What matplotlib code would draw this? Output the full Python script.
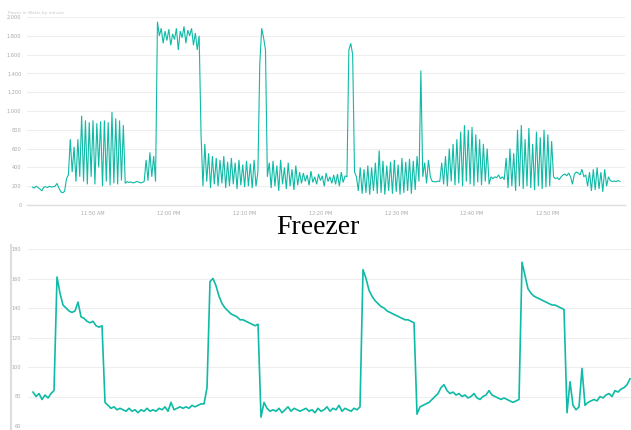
import matplotlib
matplotlib.use("Agg")
import matplotlib.pyplot as plt
from matplotlib.lines import Line2D

# ---------------- data ----------------
# Top chart: power (W), one sample every 15 s, starting 8 min before 11:50 AM
top_start_min = -8.0
top_step_min = 0.25
top_watts = [
    190, 180, 200, 185, 170, 150, 190, 195, 185, 200,
    190, 195, 200, 230, 180, 140, 130, 145, 280, 320,
    700, 350, 620, 250, 700, 300, 950, 250, 900, 220,
    880, 300, 900, 220, 870, 400, 890, 200, 900, 250,
    880, 210, 990, 230, 920, 220, 900, 260, 850, 230,
    250, 240, 245, 235, 240, 250, 245, 235, 240, 250,
    480, 260, 560, 300, 520, 250, 1950, 1800, 1880, 1720,
    1850, 1750, 1870, 1700, 1820, 1760, 1880, 1650, 1850, 1780,
    1900, 1720, 1860, 1800, 1880, 1700, 1830, 1650, 1800, 750,
    200, 650, 250, 550, 180, 520, 220, 500, 200, 480,
    230, 520, 180, 460, 200, 500, 220, 450, 170, 480,
    210, 430, 190, 470, 200, 440, 180, 480, 200, 350,
    1500, 1880, 1780, 1650, 300, 450, 180, 470, 200, 420,
    150, 480, 220, 400, 170, 450, 200, 380, 160, 420,
    210, 350, 230, 340, 250, 320, 210, 360, 240, 300,
    220, 330, 260, 310, 200, 340, 250, 300, 230, 320,
    220, 330, 200, 350, 240, 310, 300, 1650, 1720, 1600,
    350, 300, 150, 400, 120, 380, 130, 420, 110, 400,
    150, 450, 120, 580, 130, 470, 110, 420, 150, 460,
    120, 480, 140, 430, 110, 500, 130, 460, 150, 490,
    120, 470, 160, 520, 250, 1430, 300, 450, 230, 480,
    300, 250, 250, 245, 255, 250, 450, 220, 520, 200,
    600, 250, 650, 210, 700, 230, 780, 200, 850, 250,
    800, 220, 830, 200, 750, 240, 700, 210, 650, 250,
    600, 220, 300, 280, 300, 290, 320, 280, 300, 270,
    500, 180, 600, 200, 550, 150, 800, 200, 850, 170,
    700, 200, 820, 180, 650, 160, 780, 200, 720, 170,
    800, 190, 750, 200, 680, 300, 280, 290, 270, 300,
    320, 330, 310, 340, 300, 220, 330, 350, 340, 320,
    380, 300, 320, 200, 350, 150, 380, 160, 400, 170,
    350, 140, 380, 200, 300, 260, 250, 255, 250, 260,
    250,
]
top_tick_minutes = [0, 10, 20, 30, 40, 50, 60]
top_tick_labels = ["11:50 AM", "12:00 PM", "12:10 PM", "12:20 PM",
                   "12:30 PM", "12:40 PM", "12:50 PM"]
top_yticks = [0, 200, 400, 600, 800, 1000, 1200, 1400, 1600, 1800, 2000]
top_ylabels = ["0", "200", "400", "600", "800", "1,000", "1,200",
               "1,400", "1,600", "1,800", "2,000"]

# Bottom chart: Freezer power (W), one value per sample
freezer_watts = [
    83, 80, 82, 78, 81, 79, 82, 84, 161, 150,
    142, 140, 138, 137, 138, 144, 134, 133, 131, 130,
    131, 128, 127, 128, 76, 74, 72, 73, 71, 72,
    71, 70, 72, 70, 71, 69, 71, 70, 72, 70,
    71, 70, 72, 71, 73, 70, 76, 71, 72, 73,
    72, 73, 72, 74, 73, 74, 75, 75, 86, 158,
    160, 155, 148, 143, 140, 138, 136, 135, 134, 132,
    132, 131, 130, 129, 128, 129, 66, 76, 72, 70,
    71, 70, 72, 69, 71, 73, 70, 72, 71, 70,
    71, 72, 70, 71, 69, 72, 70, 71, 73, 70,
    72, 71, 74, 70, 72, 71, 70, 72, 71, 73,
    166, 160, 152, 148, 145, 143, 141, 140, 138, 137,
    136, 135, 134, 133, 132, 132, 131, 130, 68, 73,
    74, 75, 76, 78, 80, 82, 86, 88, 84, 82,
    83, 81, 82, 80, 81, 79, 80, 82, 79, 78,
    80, 81, 84, 81, 80, 79, 78, 79, 78, 77,
    76, 77, 78, 171, 162, 153, 150, 148, 147, 146,
    145, 144, 143, 142, 142, 141, 140, 139, 69, 90,
    74, 71, 73, 99, 74, 76, 77, 78, 77, 80,
    79, 81, 82, 80, 84, 83, 85, 86, 88, 92,
]
freezer_yticks = [60, 80, 100, 120, 140, 160, 180]
freezer_ylabels = ["60", "80", "100", "120", "140", "160", "180"]

# ---------------- drawing ----------------
LINE = "#0FBAA6"
GRID = "#EEEEEE"
LABEL = "#A8A8A8"
W, H = 631, 430

fig = plt.figure(figsize=(W / 100, H / 100), dpi=100)
fig.patch.set_facecolor("white")


def box(l, t, r, b):
    return [l / W, 1 - b / H, (r - l) / W, (b - t) / H]


# top
ax1 = fig.add_axes(box(27, 17, 625, 205))
top_x = [top_start_min + top_step_min * i for i in range(len(top_watts))]
ax1.plot(top_x, top_watts, color=LINE, lw=0.8, solid_joinstyle="miter")
ax1.set_xlim(-8.71, 70.18)
ax1.set_ylim(0, 2000)
ax1.set_yticks(top_yticks)
ax1.set_yticklabels(top_ylabels)
ax1.set_xticks(top_tick_minutes)
ax1.set_xticklabels(top_tick_labels)
ax1.grid(axis="y", color=GRID, lw=0.8)
ax1.set_axisbelow(True)
for s in ["top", "right", "left"]:
    ax1.spines[s].set_visible(False)
ax1.spines["bottom"].set_color("#DDDDDD")
ax1.spines["bottom"].set_linewidth(1.0)
ax1.tick_params(axis="both", length=0, labelsize=3.6, labelcolor=LABEL, pad=4)
fig.text(8 / W, 1 - 13 / H, "Power in Watts by minute", fontsize=3.2,
         color="#C8C8C8", va="center", ha="left")

# title
fig.text(318 / W, 1 - 228 / H, "Freezer", ha="center", va="center",
         fontsize=20, family="Liberation Serif", color="black")

# bottom
ax2 = fig.add_axes(box(28, 249, 631, 426))
ax2.plot(range(len(freezer_watts)), freezer_watts, color=LINE, lw=1.2)
ax2.set_xlim(-1.67, 199.33)
ax2.set_ylim(60, 180)
ax2.set_yticks(freezer_yticks)
ax2.set_yticklabels(freezer_ylabels)
ax2.set_xticks([])
ax2.grid(axis="y", color=GRID, lw=0.8)
ax2.set_axisbelow(True)
for s in ["top", "right", "left", "bottom"]:
    ax2.spines[s].set_visible(False)
ax2.tick_params(axis="y", length=0, labelsize=3.6, labelcolor=LABEL, pad=5)

fig.add_artist(Line2D([11 / W, 11 / W], [1 - 245 / H, 0], color="#DDDDDD",
                      lw=1.5, transform=fig.transFigure))

fig.savefig("out.png", dpi=100, facecolor="white")
